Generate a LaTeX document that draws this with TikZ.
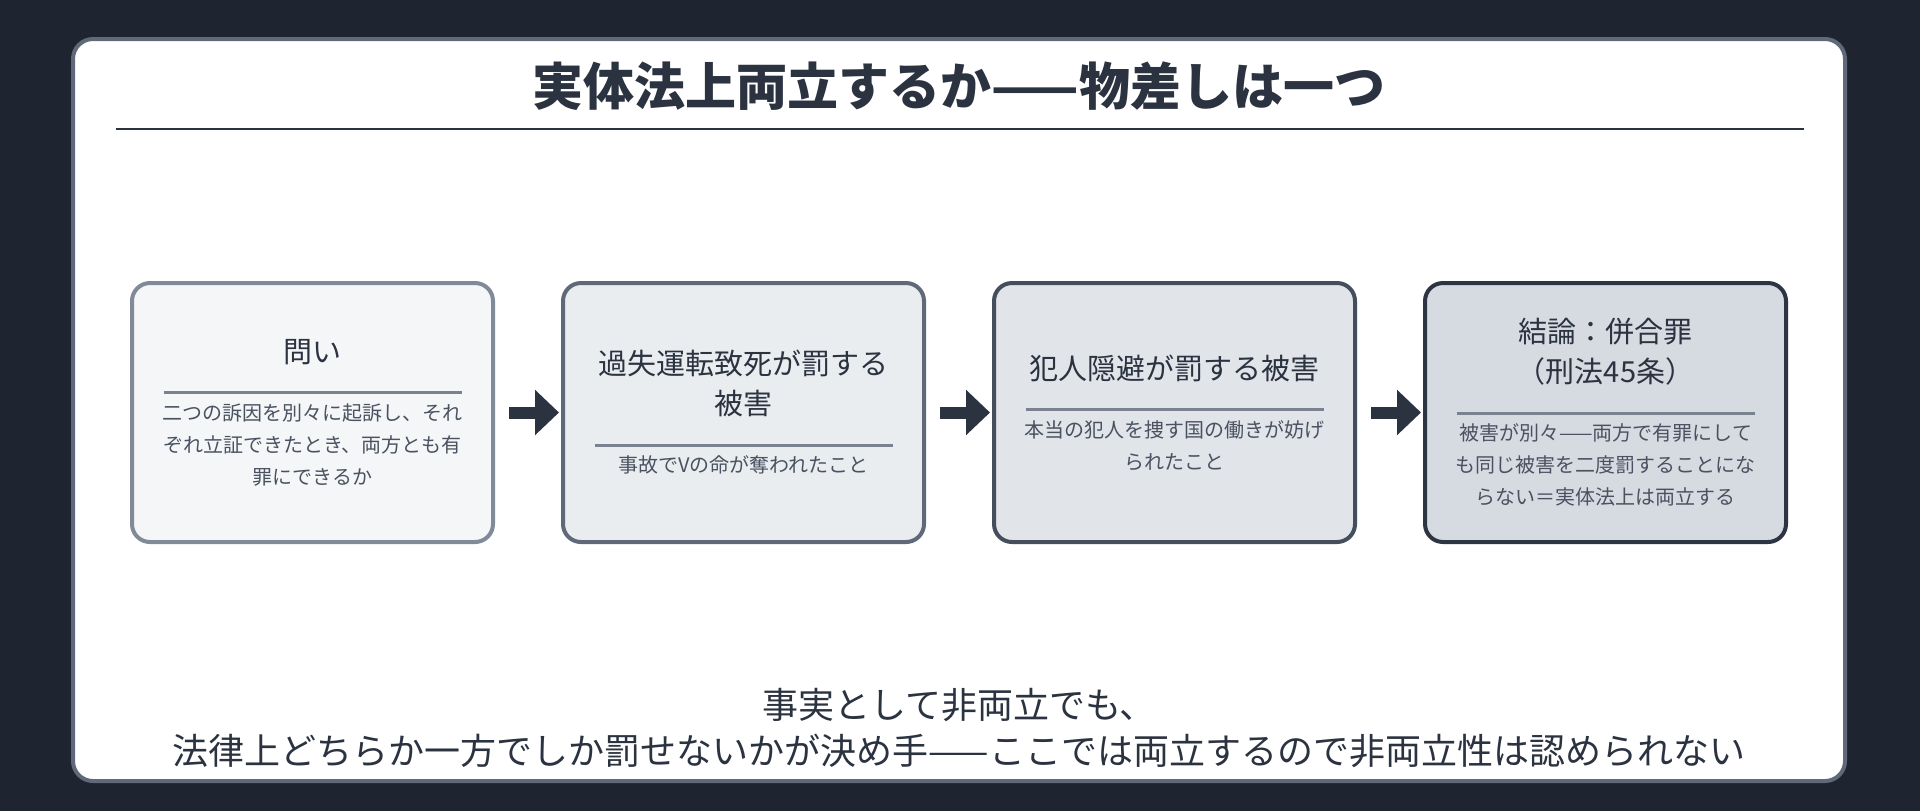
\documentclass[tikz,border=0pt]{standalone}
\usepackage{fontspec}
\setmainfont{Noto Sans CJK JP}
\usetikzlibrary{positioning,arrows.meta}
\definecolor{pagebg}{HTML}{1E2530}
\definecolor{ink}{HTML}{2B3240}
\definecolor{body}{HTML}{4A5261}
\definecolor{divider}{HTML}{7A8290}
\definecolor{fillA}{HTML}{F5F6F8}\definecolor{edgeA}{HTML}{808A99}
\definecolor{fillB}{HTML}{EAEDF0}\definecolor{edgeB}{HTML}{5F6978}
\definecolor{fillC}{HTML}{E1E4E9}\definecolor{edgeC}{HTML}{454E5C}
\definecolor{fillD}{HTML}{D6DAE1}\definecolor{edgeD}{HTML}{2D3542}
\tikzset{every picture/.style={line width=0.75pt}}
\tikzset{
  step/.style={draw=#1, line width=2pt, rounded corners=9pt, minimum width=180.5pt,
    minimum height=129.5pt, text width=170pt, align=center, inner sep=0pt,
    font=\fontsize{10pt}{16pt}\selectfont},
  flow/.style={draw=ink, line width=6pt, -{Triangle[length=12pt,width=22pt]}, shorten <=7pt, shorten >=1pt}
}
\newcommand{\hd}[1]{{\fontsize{14.5pt}{20pt}\selectfont\color{ink}#1}}
\newcommand{\bd}[1]{{\color{body}#1}}
\newcommand{\divrule}{{\color{divider}\rule[3pt]{149pt}{1.5pt}}}

\begin{document}
\begin{tikzpicture}[x=0.5pt,y=0.5pt,yscale=-1,xscale=1]
	%Background
	\fill[pagebg] (0,0) rectangle (1920,811);
	\draw[fill=white, draw=edgeB, line width=2pt, rounded corners=10pt] (73,39) rectangle (1845,781);
	
	% Title
	\node (title) at (959,86) {\fontsize{25.5pt}{30pt}\selectfont\bfseries\color{ink}実体法上両立するか——物差しは一つ};
	\draw[ink, line width=1.25pt] (116,129) -- (1804,129);
	
	% Steps
	\node[step=edgeA, fill=fillA] (ask) at (312.5,412.5) {\hd{問い}\\[3pt]\divrule\\[-6pt]
		\bd{二つの訴因を別々に起訴し、それ}\\\bd{ぞれ立証できたとき、両方とも有}\\\bd{罪にできるか}};
	\node[step=edgeB, fill=fillB] (harmA) at (743.5,412.5) {\hd{過失運転致死が罰する}\\[4pt]\hd{被害}\\[3pt]\divrule\\[-6pt]
		\bd{事故でVの命が奪われたこと}};
	\node[step=edgeC, fill=fillC] (harmB) at (1174.5,412.5) {\hd{犯人隠避が罰する被害}\\[3pt]\divrule\\[-6pt]
		\bd{本当の犯人を捜す国の働きが妨げ}\\\bd{られたこと}};
	\node[step=edgeD, fill=fillD] (concl) at (1605.5,412.5) {\hd{結論：併合罪}\\[4pt]\hd{（刑法45条）}\\[3pt]\divrule\\[-6pt]
		\bd{被害が別々——両方で有罪にして}\\\bd{も同じ被害を二度罰することにな}\\\bd{らない＝実体法上は両立する}};
	
	\draw[flow] (ask) -- (harmA);
	\draw[flow] (harmA) -- (harmB);
	\draw[flow] (harmB) -- (concl);
	
	% Bottom note
	\node[align=center, font=\fontsize{18pt}{23pt}\selectfont, text=ink] (note) at (959,728) {事実として非両立でも、\\法律上どちらか一方でしか罰せないかが決め手——ここでは両立するので非両立性は認められない};
\end{tikzpicture}
\end{document}
